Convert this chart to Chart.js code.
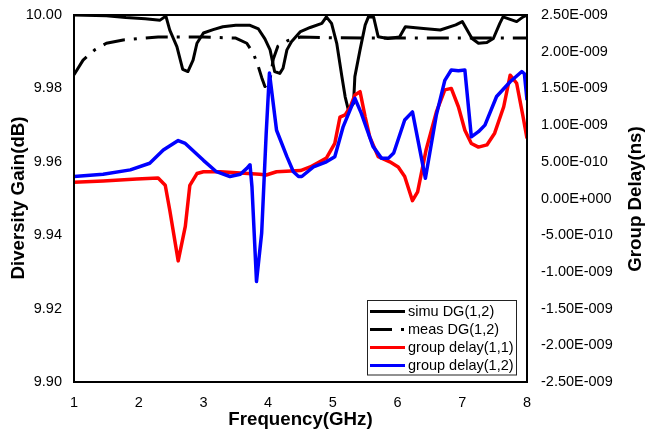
<!DOCTYPE html>
<html>
<head>
<meta charset="utf-8">
<script src="https://cdn.jsdelivr.net/npm/chart.js@4.4.1/dist/chart.umd.min.js"></script>
<style>
  html, body { margin: 0; padding: 0; background: #fff; }
  #wrap { width: 645px; height: 434px; }
</style>
</head>
<body>
<div id="wrap"><canvas id="c" width="645" height="434"></canvas></div>
<script>
// ---- data (frequency in GHz, DG in dB, group delay in ns) ----
const xTicks = [1, 2, 3, 4, 5, 6, 7, 8];
const leftTicks = [9.90, 9.92, 9.94, 9.96, 9.98, 10.00];
const rightTicksNs = [-2.5, -2.0, -1.5, -1.0, -0.5, 0, 0.5, 1.0, 1.5, 2.0, 2.5];

const simuFreq = [1.0, 1.5, 1.8, 2.1, 2.33, 2.42, 2.48, 2.59, 2.68, 2.76, 2.84, 2.9, 3.0, 3.15, 3.3, 3.5, 3.72, 3.85, 3.95, 4.03, 4.1, 4.18, 4.23, 4.29, 4.36, 4.5, 4.65, 4.83, 4.9, 4.98, 5.06, 5.14, 5.19, 5.24, 5.32, 5.34, 5.42, 5.5, 5.55, 5.63, 5.7, 5.85, 6.03, 6.12, 6.4, 6.66, 6.9, 7.0, 7.15, 7.25, 7.38, 7.48, 7.58, 7.63, 7.84, 7.94, 8.0];
const simuDG   = [10.0, 9.9998, 9.9993, 9.9990, 9.9986, 9.9997, 9.9959, 9.9914, 9.9852, 9.9846, 9.9877, 9.9923, 9.9951, 9.9960, 9.9968, 9.9972, 9.9972, 9.9962, 9.9935, 9.9905, 9.9846, 9.9841, 9.9855, 9.9905, 9.9927, 9.9955, 9.9966, 9.9977, 9.9995, 9.9977, 9.9923, 9.9832, 9.9777, 9.9741, 9.9759, 9.9832, 9.9905, 9.9973, 9.9995, 9.9994, 9.9941, 9.9936, 9.9940, 9.9968, 9.9963, 9.9959, 9.9973, 9.9982, 9.9936, 9.9923, 9.9925, 9.9936, 9.9977, 9.9995, 9.9982, 9.9995, 10.0];

const measFreq = [1.0, 1.14, 1.32, 1.5, 1.76, 2.02, 2.3, 3.0, 3.5, 3.67, 3.77, 3.84, 3.9, 3.95, 4.02, 4.08, 4.15, 4.3, 4.5, 5.0, 6.0, 7.0, 7.5, 8.0];
const measDG   = [9.9837, 9.9877, 9.9905, 9.9923, 9.9932, 9.9936, 9.9940, 9.9940, 9.9937, 9.9923, 9.9896, 9.9864, 9.9830, 9.9805, 9.9815, 9.9880, 9.9915, 9.9930, 9.9940, 9.9938, 9.9937, 9.9937, 9.9937, 9.9937];

const gd11Freq = [1.0, 1.45, 1.97, 2.3, 2.41, 2.48, 2.61, 2.72, 2.79, 2.9, 3.0, 3.26, 3.51, 3.87, 3.97, 4.13, 4.5, 4.65, 4.9, 5.03, 5.11, 5.19, 5.27, 5.34, 5.42, 5.5, 5.57, 5.7, 5.88, 6.01, 6.11, 6.23, 6.31, 6.44, 6.6, 6.73, 6.83, 6.94, 7.04, 7.14, 7.25, 7.38, 7.5, 7.64, 7.74, 7.84, 7.94, 8.0];
const gd11Ns   = [0.22, 0.24, 0.265, 0.28, 0.18, -0.16, -0.85, -0.38, 0.18, 0.34, 0.365, 0.365, 0.35, 0.33, 0.32, 0.365, 0.38, 0.43, 0.55, 0.75, 1.11, 1.14, 1.25, 1.41, 1.455, 1.11, 0.84, 0.57, 0.5, 0.43, 0.3, -0.03, 0.09, 0.66, 1.18, 1.48, 1.5, 1.25, 0.93, 0.75, 0.7, 0.73, 0.89, 1.25, 1.68, 1.57, 1.11, 0.82];

const gd12Freq = [1.0, 1.45, 1.87, 2.17, 2.38, 2.61, 2.72, 3.0, 3.2, 3.41, 3.57, 3.67, 3.72, 3.75, 3.82, 3.9, 3.97, 4.02, 4.13, 4.29, 4.39, 4.47, 4.52, 4.7, 4.9, 5.03, 5.16, 5.34, 5.44, 5.62, 5.75, 5.86, 5.94, 6.11, 6.23, 6.43, 6.6, 6.73, 6.83, 6.94, 7.04, 7.14, 7.25, 7.35, 7.53, 7.74, 7.92, 7.96, 8.0];
const gd12Ns   = [0.3, 0.33, 0.39, 0.48, 0.66, 0.79, 0.75, 0.52, 0.365, 0.3, 0.33, 0.41, 0.46, 0.16, -1.13, -0.47, 0.89, 1.71, 0.93, 0.57, 0.365, 0.3, 0.3, 0.43, 0.5, 0.57, 0.98, 1.365, 1.16, 0.71, 0.55, 0.55, 0.62, 1.07, 1.18, 0.275, 1.14, 1.61, 1.75, 1.74, 1.75, 0.84, 0.91, 1.0, 1.39, 1.59, 1.73, 1.7, 1.34];

const seriesLabels = ['simu DG(1,2)', 'meas DG(1,2)', 'group delay(1,1)', 'group delay(1,2)'];

// ---- helpers ----
const pairs = (xs, ys) => xs.map((x, i) => ({ x: x, y: ys[i] }));
function sciLabel(ns) {
  const v = ns * 1e-9;
  let s = v.toExponential(2);           // e.g. "2.50e-9"
  let [m, e] = s.split('e');
  const sign = e[0] === '-' ? '-' : '+';
  let digits = e.replace(/^[+-]/, '');
  while (digits.length < 3) digits = '0' + digits;
  return m + 'E' + sign + digits;
}

const FONT = "'Liberation Sans', Arial, sans-serif";
const DASHDOT = [22, 9, 3, 9];

const decorPlugin = {
  id: 'decor',
  afterDatasetsDraw(chart) {
    const ctx = chart.ctx;
    const a = chart.chartArea;
    ctx.save();
    // frame
    ctx.strokeStyle = '#000';
    ctx.lineWidth = 2;
    ctx.strokeRect(a.left, a.top, a.right - a.left, a.bottom - a.top);

    // legend
    const lx = 367.5, ly = 300.5, lw = 149, lh = 74.5;
    ctx.fillStyle = '#fff';
    ctx.fillRect(lx, ly, lw, lh);
    ctx.strokeStyle = '#222';
    ctx.lineWidth = 1;
    ctx.strokeRect(lx, ly, lw, lh);
    ctx.font = '14.5px ' + FONT;
    ctx.textBaseline = 'middle';
    ctx.textAlign = 'left';
    chart.data.datasets.forEach((ds, i) => {
      const y = 311.5 + i * 18;
      ctx.beginPath();
      ctx.strokeStyle = ds.borderColor;
      ctx.lineWidth = 3.2;
      ctx.lineCap = 'butt';
      ctx.setLineDash(ds.borderDash || []);
      ctx.moveTo(370, y);
      ctx.lineTo(405, y);
      ctx.stroke();
      ctx.setLineDash([]);
      ctx.fillStyle = '#000';
      ctx.fillText(ds.label, 408, y + 0.5);
    });

    // axis titles
    ctx.fillStyle = '#000';
    ctx.font = 'bold 18.7px ' + FONT;
    ctx.textAlign = 'center';
    ctx.textBaseline = 'middle';
    ctx.fillText('Frequency(GHz)', 300.5, 420);
    ctx.save();
    ctx.translate(19, 198);
    ctx.rotate(-Math.PI / 2);
    ctx.fillText('Diversity Gain(dB)', 0, 0);
    ctx.restore();
    ctx.save();
    ctx.translate(636, 199);
    ctx.rotate(-Math.PI / 2);
    ctx.fillText('Group Delay(ns)', 0, 0);
    ctx.restore();
    ctx.restore();
  }
};

const fitY = w => s => { s.width = w; s.paddingTop = 0; s.paddingBottom = 0; };

new Chart(document.getElementById('c'), {
  type: 'line',
  data: {
    datasets: [
      { label: seriesLabels[0], data: pairs(simuFreq, simuDG), yAxisID: 'yL',
        borderColor: '#000', borderWidth: 3, order: 3 },
      { label: seriesLabels[1], data: pairs(measFreq, measDG), yAxisID: 'yL',
        borderColor: '#000', borderWidth: 3, borderDash: DASHDOT, order: 2 },
      { label: seriesLabels[2], data: pairs(gd11Freq, gd11Ns), yAxisID: 'yR',
        borderColor: '#ff0000', borderWidth: 3.5, order: 1 },
      { label: seriesLabels[3], data: pairs(gd12Freq, gd12Ns), yAxisID: 'yR',
        borderColor: '#0000ff', borderWidth: 3.5, order: 0 }
    ]
  },
  options: {
    responsive: false,
    animation: false,
    events: [],
    layout: { padding: { top: 15, left: 0, right: 0, bottom: 0 } },
    elements: { point: { radius: 0 }, line: { tension: 0, borderCapStyle: 'butt', borderJoinStyle: 'round' } },
    plugins: { legend: { display: false }, tooltip: { enabled: false }, title: { display: false } },
    scales: {
      x: {
        type: 'linear', min: 1, max: 8,
        afterFit: s => { s.height = 52; s.paddingLeft = 0; s.paddingRight = 0; },
        afterBuildTicks: s => { s.ticks = xTicks.map(v => ({ value: v })); },
        grid: { display: false, drawTicks: false },
        border: { display: false },
        ticks: { padding: 12, color: '#000', font: { family: FONT, size: 14.5 }, maxRotation: 0,
                 callback: v => String(v) }
      },
      yL: {
        position: 'left', min: 9.90, max: 10.00,
        afterFit: fitY(74),
        afterBuildTicks: s => { s.ticks = leftTicks.map(v => ({ value: v })); },
        grid: { display: false, drawTicks: false },
        border: { display: false },
        ticks: { padding: 12, color: '#000', font: { family: FONT, size: 14.5 },
                 callback: v => Number(v).toFixed(2) }
      },
      yR: {
        position: 'right', min: -2.5, max: 2.5,
        afterFit: fitY(118),
        afterBuildTicks: s => { s.ticks = rightTicksNs.map(v => ({ value: v })); },
        grid: { display: false, drawTicks: false },
        border: { display: false },
        ticks: { padding: 14, color: '#000', font: { family: FONT, size: 14.5 },
                 callback: v => sciLabel(v) }
      }
    }
  },
  plugins: [decorPlugin]
});
</script>
</body>
</html>
